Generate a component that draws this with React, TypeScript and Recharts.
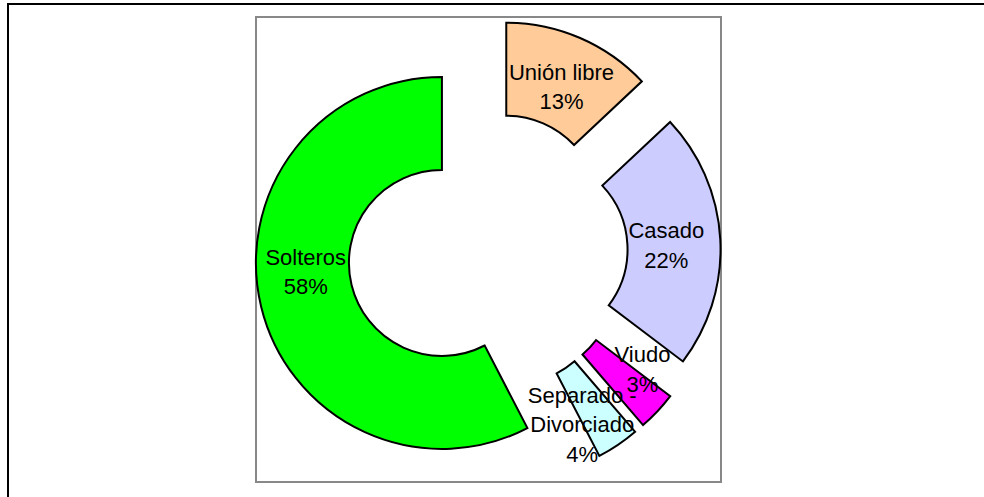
import { PieChart, Pie, Cell, Sector } from 'recharts';

// shares (labels show them rounded)
const categories = ['Unión libre', 'Casado', 'Viudo', 'Separado -\nDivorciado', 'Solteros'];
const shares = [13, 22.3, 3.4, 3.7, 57.6];
const colors = ['#FFCC99', '#CCCCFF', '#FF00FF', '#CCFFFF', '#00FF00'];

const data = categories.map((name, i) => ({ name, value: shares[i] }));

// small hand nudges so the labels sit where Excel put them
const labelNudge: [number, number][] = [
  [2, 1],
  [-2, 3],
  [12, -17],
  [-15, 10],
  [-6, -23],
];

const RAD = Math.PI / 180;
const EXPLODE = 47;
const FONT = 'Arial, "Liberation Sans", sans-serif';

// every slice is pushed out along its own bisector, like Excel's exploded doughnut
function shift(midAngle: number) {
  return {
    dx: EXPLODE * Math.cos(-midAngle * RAD),
    dy: EXPLODE * Math.sin(-midAngle * RAD),
  };
}

function ExplodedSector(props: any) {
  const { dx, dy } = shift(props.midAngle);
  return <Sector {...props} cx={props.cx + dx} cy={props.cy + dy} />;
}

function renderLabel(props: any) {
  const { cx, cy, midAngle, percent, name, index } = props;
  const { dx, dy } = shift(midAngle);
  const r = percent < 0.05 ? 149 : 134;
  const [nx, ny] = labelNudge[index] ?? [0, 0];
  const x = cx + dx + r * Math.cos(-midAngle * RAD) + nx;
  const y = cy + dy + r * Math.sin(-midAngle * RAD) + ny;
  const lines = [...String(name).split('\n'), `${Math.round(percent * 100)}%`];
  const lh = 29.5;
  const y0 = y - ((lines.length - 1) * lh - 15.75) / 2;
  return (
    <text x={x} y={y0} textAnchor="middle" fill="#000" fontSize={22} fontFamily={FONT}>
      {lines.map((l, i) => (
        <tspan key={i} x={x} y={y0 + i * lh}>
          {l}
        </tspan>
      ))}
    </text>
  );
}

export default function App() {
  return (
    <div
      style={{
        position: 'absolute',
        left: 0,
        top: 0,
        width: 984,
        height: 497,
        overflow: 'hidden',
        background: '#fff',
      }}
    >
      <div
        style={{
          position: 'absolute',
          left: 7,
          top: 3,
          width: 1100,
          height: 600,
          border: '2px solid #000',
        }}
      />
      <div
        style={{
          position: 'absolute',
          left: 255,
          top: 16,
          width: 463,
          height: 463,
          border: '2px solid #888',
        }}
      />
      <div style={{ position: 'absolute', left: 0, top: 0 }}>
        <PieChart width={984} height={497} margin={{ top: 0, right: 0, bottom: 0, left: 0 }}>
          <Pie
            data={data}
            dataKey="value"
            nameKey="name"
            cx={487.6}
            cy={251.8}
            innerRadius={93}
            outerRadius={186}
            startAngle={90}
            endAngle={-270}
            stroke="#000"
            strokeWidth={2}
            shape={ExplodedSector}
            inactiveShape={ExplodedSector}
            activeShape={ExplodedSector}
            label={renderLabel}
            labelLine={false}
            isAnimationActive={false}
          >
            {data.map((d, i) => (
              <Cell key={d.name} fill={colors[i]} />
            ))}
          </Pie>
        </PieChart>
      </div>
    </div>
  );
}
